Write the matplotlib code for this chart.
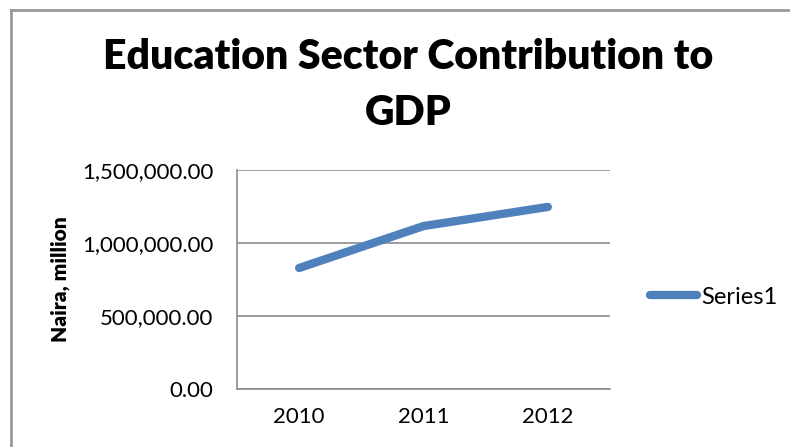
import matplotlib.pyplot as plt
from matplotlib.lines import Line2D
from matplotlib.ticker import FuncFormatter

# Données
annees = ["2010", "2011", "2012"]
contribution = [829000, 1116000, 1247000]
graduations = [0, 500000, 1000000, 1500000]

titre = "Education Sector Contribution to\nGDP"
label_y = "Naira, million"
nom_serie = "Series1"

plt.rcParams['font.family'] = ['Lato', 'DejaVu Sans']

fig = plt.figure(figsize=(7.9, 4.47), dpi=100)
ax = fig.add_axes([237 / 790, 1 - 389 / 447, 373 / 790, 219 / 447])

x = list(range(len(annees)))
ax.plot(x, contribution, color='#4F81BD', linewidth=6, solid_capstyle='round',
        solid_joinstyle='round')

ax.set_xlim(-0.5, len(annees) - 0.5)
ax.set_ylim(0, 1500000)
ax.set_xticks(x)
ax.set_xticklabels(annees)
ax.set_yticks(graduations)
ax.yaxis.set_major_formatter(FuncFormatter(lambda v, p: f"{v:,.2f}"))
ax.tick_params(length=0, labelsize=16, pad=17)
ax.tick_params(axis='x', pad=13)
ax.grid(axis='y', color='#8c8c8c', linewidth=1.2)
ax.set_axisbelow(True)
for s in ['top', 'right']:
    ax.spines[s].set_visible(False)
ax.spines['left'].set_color('#8c8c8c')
ax.spines['bottom'].set_color('#8c8c8c')
ax.spines['left'].set_linewidth(1.2)
ax.spines['bottom'].set_linewidth(1.2)

ax.set_ylabel(label_y, fontsize=15, fontweight='heavy')
ax.yaxis.set_label_coords(-167 / 373, 0.5)

fig.text(0.517, 1 - 85 / 447, titre, ha='center', va='center', fontsize=29.5,
         fontweight='heavy', linespacing=1.58)

# Légende
poignee = Line2D([], [], color='#4F81BD', linewidth=6, solid_capstyle='round')
fig.legend([poignee], [nom_serie], loc='center left',
           bbox_to_anchor=(629 / 790, 1 - 297 / 447), frameon=False,
           fontsize=17, handlelength=2.0, handletextpad=0.15)

# Cadre du graphique
fig.add_artist(Line2D([10.5 / 790, 1], [1 - 9.5 / 447] * 2, color='#999999', linewidth=2))
fig.add_artist(Line2D([10.5 / 790] * 2, [0, 1 - 9.5 / 447], color='#999999', linewidth=2))

fig.savefig("out.png", dpi=100)
